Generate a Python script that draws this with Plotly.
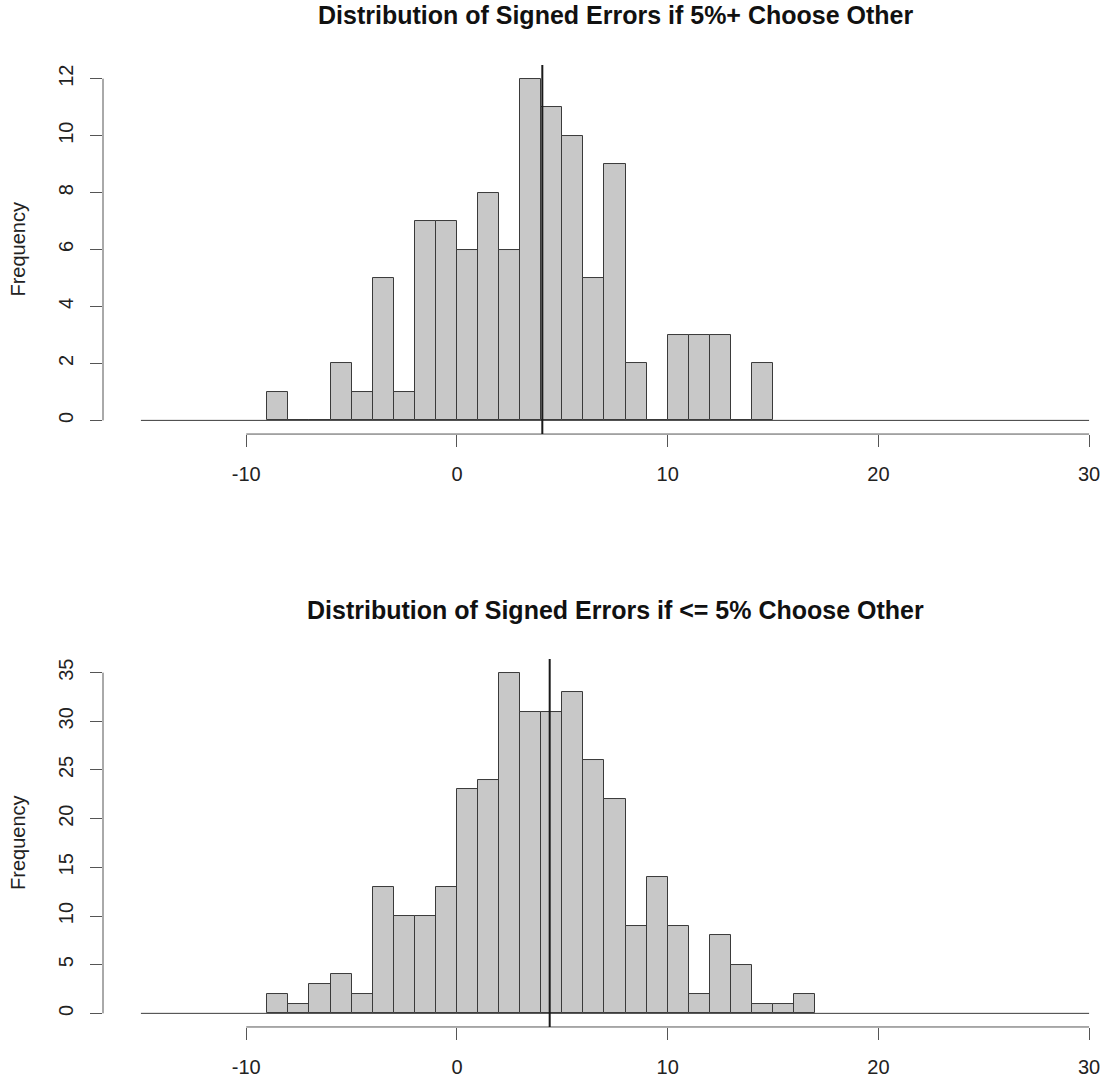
import plotly.graph_objects as go

# ---------------- data ----------------
break_start = -15
break_end = 30
bin_width = 1

top_bin_left = list(range(-9, 15))
top_counts = [1, 0, 0, 2, 1, 5, 1, 7, 7, 6, 8, 6, 12, 11, 10, 5, 9, 2, 0, 3, 3, 3, 0, 2]
top_mean = 4.05
top_title = "Distribution of Signed Errors if 5%+ Choose Other"

bottom_bin_left = list(range(-9, 17))
bottom_counts = [2, 1, 3, 4, 2, 13, 10, 10, 13, 23, 24, 35, 31, 31, 33, 26, 22, 9, 14, 9, 2, 8, 5, 1, 1, 2]
bottom_mean = 4.4
bottom_title = "Distribution of Signed Errors if <= 5% Choose Other"

x_ticks = [-10, 0, 10, 20, 30]
top_y_ticks = [0, 2, 4, 6, 8, 10, 12]
bottom_y_ticks = [0, 5, 10, 15, 20, 25, 30, 35]
y_label = "Frequency"

# ---------------- styling ----------------
FONT = "Liberation Sans"
BAR_FILL = "#C8C8C8"
EDGE = "#3a3a3a"
AXIS = "#555555"
TICK_SIZE = 20

pad = 0.04 * (break_end - break_start)
x_range = [break_start - pad, break_end + pad - 1.14]

fig = go.Figure()

panels = [
    (top_bin_left, top_counts, top_mean, top_title, top_y_ticks, "x", "y", [0.5981, 0.9398], 0.9861),
    (bottom_bin_left, bottom_counts, bottom_mean, bottom_title, bottom_y_ticks, "x2", "y2", [0.0491, 0.3898], 0.4352),
]

shapes = []
annotations = []
for i, (lefts, counts, mean, title, yticks, xa, ya, dom, title_y) in enumerate(panels):
    centers = [l + bin_width / 2 for l in lefts]
    fig.add_trace(go.Bar(
        x=centers, y=counts, width=bin_width,
        marker=dict(color=BAR_FILL, line=dict(color=EDGE, width=1)),
        xaxis=xa, yaxis=ya, showlegend=False, hoverinfo="x+y",
    ))
    # baseline of zero-count bins across all breaks
    fig.add_trace(go.Scatter(
        x=[break_start, break_end], y=[0, 0], mode="lines",
        line=dict(color=EDGE, width=1), xaxis=xa, yaxis=ya,
        showlegend=False, hoverinfo="skip",
    ))
    ymax = max(counts)
    yr = [-0.04 * ymax, 1.04 * ymax]
    suffix = "" if i == 0 else "2"
    fig.update_layout({
        "xaxis" + suffix: dict(
            domain=[0, 1], anchor=ya, range=x_range, tickvals=x_ticks,
            ticktext=[str(v) for v in x_ticks],
            ticks="outside", ticklen=12, tickcolor=AXIS, tickwidth=1,
            showline=False, showgrid=False, zeroline=False, automargin=False,
            tickfont=dict(family=FONT, size=TICK_SIZE, color="#222222"),
            ticklabelstandoff=10,
        ),
        "yaxis" + suffix: dict(
            domain=dom, anchor=xa, range=yr, tickvals=yticks,
            ticktext=[str(v) for v in yticks],
            ticks="outside", ticklen=12, tickcolor=AXIS, tickwidth=1,
            showline=False, showgrid=False, zeroline=False, tickangle=-90,
            automargin=False,
            tickfont=dict(family=FONT, size=TICK_SIZE, color="#222222"),
            ticklabelstandoff=9,
        ),
    })
    xref = xa
    yref = ya
    # R-style axis lines spanning first to last tick
    shapes.append(dict(type="line", xref=xref, yref=yref + " domain",
                       x0=x_ticks[0], x1=x_ticks[-1], y0=0, y1=0,
                       line=dict(color=AXIS, width=1)))
    shapes.append(dict(type="line", xref=xref + " domain", yref=yref,
                       x0=0, x1=0, y0=yticks[0], y1=yticks[-1],
                       line=dict(color=AXIS, width=1)))
    # mean line
    shapes.append(dict(type="line", xref=xref, yref=yref + " domain",
                       x0=mean, x1=mean, y0=0, y1=1,
                       line=dict(color="#1a1a1a", width=2)))
    # title
    annotations.append(dict(
        text="<b>" + title + "</b>", xref="paper", yref="paper",
        x=0.512, y=title_y, xanchor="center", yanchor="middle",
        showarrow=False, font=dict(family=FONT, size=25, color="#111111"),
    ))
    annotations.append(dict(
        text=y_label, xref="paper", yref="paper",
        x=-0.085, y=(dom[0] + dom[1]) / 2, xanchor="center", yanchor="middle",
        textangle=-90, showarrow=False, font=dict(family=FONT, size=20, color="#222222"),
    ))

fig.update_layout(
    width=1103, height=1080,
    margin=dict(l=103, r=0, t=0, b=0, autoexpand=False),
    paper_bgcolor="white", plot_bgcolor="white",
    bargap=0, shapes=shapes, annotations=annotations,
)

fig.write_html(
    "out.html",
    config={"displayModeBar": False},
    post_script="document.body.style.margin='0';document.body.style.padding='0';"
                "document.body.style.overflow='hidden';",
)
